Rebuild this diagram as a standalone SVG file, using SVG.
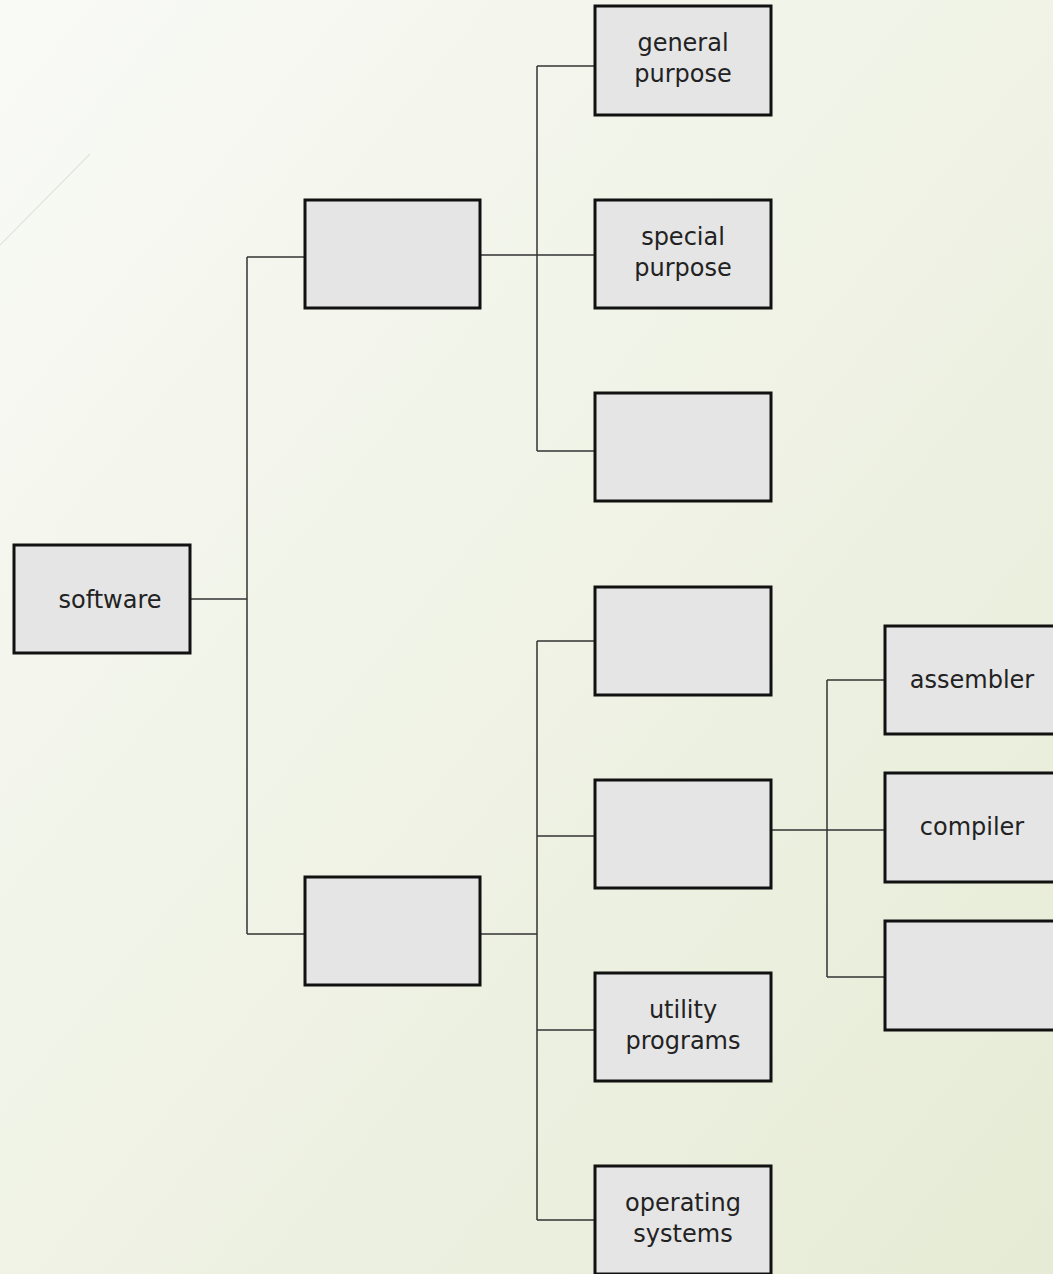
<svg xmlns="http://www.w3.org/2000/svg" width="1053" height="1274" viewBox="0 0 1053 1274">
<defs>
<linearGradient id="bg" x1="0" y1="0" x2="1" y2="1">
<stop offset="0" stop-color="#f9faf6"/>
<stop offset="1" stop-color="#e6ebd5"/>
</linearGradient>
<style>
.box{fill:#e5e5e5;stroke:#111;stroke-width:3}
.lbl{font-family:"DejaVu Sans",sans-serif;font-size:24px;fill:#222;text-anchor:middle}
.c{fill:none;stroke:#333;stroke-width:1.5}
</style>
</defs>
<rect width="1053" height="1274" fill="url(#bg)"/>
<line x1="90" y1="154" x2="0" y2="245" stroke="#e2e4de" stroke-width="1.2"/>
<g id="connectors">
<path class="c" d="M190 599H247M247 257V934M247 257H305M247 934H305"/>
<path class="c" d="M480 255H595M537 66V451M537 66H595M537 451H595"/>
<path class="c" d="M480 934H537M537 641V1220M537 641H595M537 836H595M537 1030H595M537 1220H595"/>
<path class="c" d="M771 830H885M827 680V977M827 680H885M827 977H885"/>
</g>
<g id="software"><rect class="box" x="14" y="545" width="176" height="108"/><text class="lbl" x="110" y="608">software</text></g>
<g id="n-top"><rect class="box" x="305" y="200" width="175" height="108"/></g>
<g id="n-bottom"><rect class="box" x="305" y="877" width="175" height="108"/></g>
<g id="general"><rect class="box" x="595" y="6" width="176" height="109"/><text class="lbl" x="683" y="51">general</text><text class="lbl" x="683" y="82">purpose</text></g>
<g id="special"><rect class="box" x="595" y="200" width="176" height="108"/><text class="lbl" x="683" y="245">special</text><text class="lbl" x="683" y="276">purpose</text></g>
<g id="n-empty1"><rect class="box" x="595" y="393" width="176" height="108"/></g>
<g id="n-empty2"><rect class="box" x="595" y="587" width="176" height="108"/></g>
<g id="n-lang"><rect class="box" x="595" y="780" width="176" height="108"/></g>
<g id="utility"><rect class="box" x="595" y="973" width="176" height="108"/><text class="lbl" x="683" y="1018">utility</text><text class="lbl" x="683" y="1049">programs</text></g>
<g id="os"><rect class="box" x="595" y="1166" width="176" height="108"/><text class="lbl" x="683" y="1211">operating</text><text class="lbl" x="683" y="1242">systems</text></g>
<g id="assembler"><rect class="box" x="885" y="626" width="176" height="108"/><text class="lbl" x="972" y="688">assembler</text></g>
<g id="compiler"><rect class="box" x="885" y="773" width="176" height="109"/><text class="lbl" x="972" y="835">compiler</text></g>
<g id="n-empty3"><rect class="box" x="885" y="921" width="176" height="109"/></g>
</svg>
